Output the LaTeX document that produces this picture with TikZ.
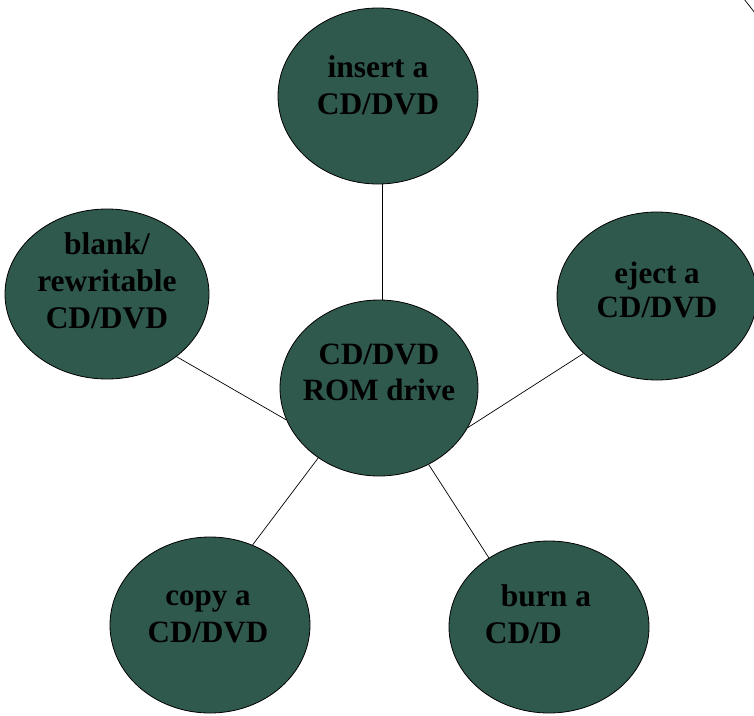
\documentclass[tikz,border=0pt]{standalone}
\usepackage{fontspec}
\setmainfont{Liberation Serif}
\usetikzlibrary{shapes.geometric}
\definecolor{discfill}{RGB}{48,89,78}
\tikzset{
  disc/.style={ellipse, draw=black, line width=0.8pt, fill=discfill, inner sep=0pt},
  disctext/.style={align=center, text=black, inner sep=0pt, font=\bfseries\fontsize{31.5}{37}\selectfont},
  link/.style={draw=black, line width=0.7pt}
}
\begin{document}
\begin{tikzpicture}[x=1pt,y=-1pt]
\useasboundingbox (0,0) rectangle (754,715);
\fill[white] (0,0) rectangle (754,715);
% ellipses
\node[disc, minimum width=200pt, minimum height=176pt] (insert) at (378,96) {};
\node[disc, minimum width=204pt, minimum height=170pt] (blank) at (107,294) {};
\node[disc, minimum width=200pt, minimum height=168pt] (eject) at (657,296) {};
\node[disc, minimum width=198pt, minimum height=176pt] (drive) at (379,388) {};
\node[disc, minimum width=200pt, minimum height=176pt] (copy) at (210,625) {};
\node[disc, minimum width=200pt, minimum height=172pt] (burn) at (549,627) {};
% texts
\node[disctext] (insertT) at ([yshift=11pt]insert.center) {insert a\\CD/DVD};
\node[disctext] (blankT) at ([yshift=13pt]blank.center) {blank/\\rewritable\\CD/DVD};
\node[disctext, font=\bfseries\fontsize{31}{34}\selectfont] (ejectT) at ([yshift=6pt]eject.center) {eject a\\CD/DVD};
\node[disctext, font=\bfseries\fontsize{31}{36}\selectfont] (driveT) at ([yshift=16pt]drive.center) {CD/DVD\\ROM drive};
\node[disctext, font=\bfseries\fontsize{31}{37}\selectfont] (copyT) at ([xshift=-2pt,yshift=8pt]copy.center) {copy a\\CD/DVD};
\node[disctext] (burnT) at ([xshift=-3pt,yshift=13pt]burn.center) {burn a\\CD/D\phantom{VD}};
% connectors
\draw[link] ([xshift=4pt]insert.south) -- ([xshift=4pt]insert.south |- drive.north);
\draw[link] (blank.-42) -- (drive.199);
\draw[link] (eject.218) -- (drive.-24);
\draw[link] (copy.62) -- (drive.229);
\draw[link] (burn.131) -- (drive.-57);
% stray stroke at top right
\coordinate (s1) at (744,-1);
\coordinate (s2) at (755,13);
\draw[link] (s1) -- (s2);
\end{tikzpicture}
\end{document}
